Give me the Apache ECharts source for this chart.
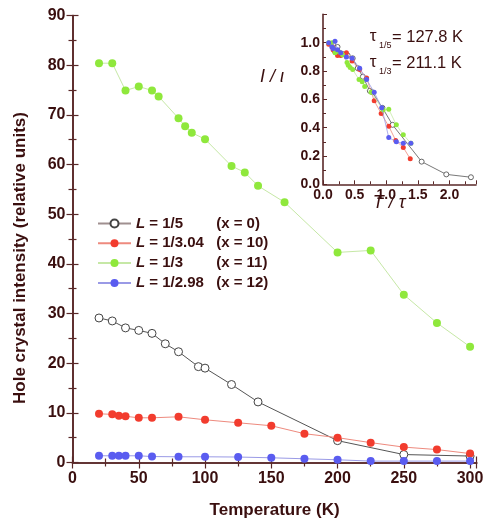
<!DOCTYPE html>
<html>
<head>
<meta charset="utf-8">
<script src="https://cdn.jsdelivr.net/npm/echarts@6/dist/echarts.min.js"></script>
<style>
  html, body { margin: 0; padding: 0; background: #fff; }
  #chartdiv { width: 488px; height: 527px; }
</style>
</head>
<body>
<div id="chartdiv"></div>
<script>
// main panel: intensity vs temperature
const tempBlack = [20, 30, 40, 50, 60, 70, 80, 95, 100, 120, 140, 200, 250, 300];
const intBlack = [29.1, 28.5, 27.1, 26.6, 26.0, 23.9, 22.3, 19.3, 19.0, 15.7, 12.2, 4.4, 1.6, 1.3];
const tempRed = [20, 30, 35, 40, 50, 60, 80, 100, 125, 150, 175, 200, 225, 250, 275, 300];
const intRed = [9.8, 9.7, 9.4, 9.3, 9.0, 9.0, 9.2, 8.6, 8.0, 7.4, 5.8, 5.0, 4.0, 3.1, 2.6, 1.8];
const tempGreen = [20, 30, 40, 50, 60, 65, 80, 85, 90, 100, 120, 130, 140, 160, 200, 225, 250, 275, 300];
const intGreen = [80.4, 80.4, 74.9, 75.7, 74.9, 73.7, 69.3, 67.7, 66.4, 65.1, 59.7, 58.4, 55.7, 52.4, 42.3, 42.7, 33.8, 28.1, 23.3];
const tempBlue = [20, 30, 35, 40, 50, 60, 80, 100, 125, 150, 175, 200, 225, 250, 275, 300];
const intBlue = [1.35, 1.35, 1.35, 1.35, 1.35, 1.2, 1.15, 1.15, 1.1, 0.95, 0.75, 0.55, 0.28, 0.28, 0.28, 0.28];

// inset: I/I0 vs T/tau
const insetBlackX = [0.16, 0.23, 0.31, 0.39, 0.47, 0.55, 0.63, 0.74, 0.78, 0.94, 1.10, 1.56, 1.95, 2.34];
const insetBlackY = [0.99, 0.97, 0.92, 0.91, 0.89, 0.82, 0.76, 0.66, 0.65, 0.54, 0.42, 0.16, 0.07, 0.05];
const insetRedX = [0.09, 0.14, 0.16, 0.18, 0.23, 0.28, 0.37, 0.46, 0.58, 0.69, 0.81, 0.92, 1.04, 1.15, 1.27, 1.38];
const insetRedY = [0.99, 0.98, 0.95, 0.94, 0.91, 0.91, 0.93, 0.87, 0.81, 0.75, 0.59, 0.50, 0.41, 0.31, 0.26, 0.18];
const insetGreenX = [0.09, 0.14, 0.19, 0.24, 0.28, 0.31, 0.38, 0.40, 0.43, 0.47, 0.57, 0.62, 0.66, 0.76, 0.95, 1.04, 1.16, 1.27, 1.39];
const insetGreenY = [1.0, 1.0, 0.93, 0.94, 0.93, 0.915, 0.86, 0.84, 0.825, 0.81, 0.74, 0.725, 0.69, 0.65, 0.525, 0.53, 0.42, 0.35, 0.29];
const insetBlueX = [0.09, 0.14, 0.16, 0.19, 0.23, 0.28, 0.37, 0.46, 0.58, 0.69, 0.81, 0.93, 1.04, 1.16, 1.27, 1.39];
const insetBlueY = [1.0, 0.97, 0.96, 1.01, 0.95, 0.93, 0.90, 0.89, 0.82, 0.74, 0.65, 0.54, 0.33, 0.30, 0.29, 0.29];

const seriesNames = ["L = 1/5", "L = 1/3.04", "L = 1/3", "L = 1/2.98"];
const legendFractions = ["1/5", "1/3.04", "1/3", "1/2.98"];
const legendDoping = ["0", "10", "11", "12"];

const mainTicksX = [0, 50, 100, 150, 200, 250, 300];
const mainTicksY = [0, 10, 20, 30, 40, 50, 60, 70, 80, 90];

const FONT = '"Liberation Sans", Arial, sans-serif';
const TEXT = "#3a0f0f";
const AXIS = "#5a2828";

function pairs(xs, ys) {
  return xs.map((x, i) => [x, ys[i]]);
}

const styles = [
  { fill: "#ffffff", border: "#444444", line: "#555555", legendLine: "#a09090" },
  { fill: "#f23c2e", border: "#f23c2e", line: "#ee8a7e", legendLine: "#ee8a7e" },
  { fill: "#8fe83c", border: "#8fe83c", line: "#c6e8a6", legendLine: "#c6e8a6" },
  { fill: "#5a5cf0", border: "#5a5cf0", line: "#9a9ae6", legendLine: "#9a9ae6" }
];

const mainData = [
  pairs(tempBlack, intBlack),
  pairs(tempRed, intRed),
  pairs(tempGreen, intGreen),
  pairs(tempBlue, intBlue)
];
const insetData = [
  pairs(insetBlackX, insetBlackY),
  pairs(insetRedX, insetRedY),
  pairs(insetGreenX, insetGreenY),
  pairs(insetBlueX, insetBlueY)
];

function axisCommon(extra) {
  return Object.assign({
    type: "value",
    axisLine: { show: true, lineStyle: { color: AXIS, width: 1.6 } },
    axisTick: { show: true, inside: true, length: 6, lineStyle: { color: AXIS, width: 1.2 } },
    minorTick: { show: true, splitNumber: 2, length: 4, lineStyle: { color: AXIS, width: 1.2 } },
    splitLine: { show: false },
    axisLabel: { show: false }
  }, extra);
}

const mainLabel = { show: true, fontFamily: FONT, fontWeight: "bold", fontSize: 16, color: TEXT };
const insetLabel = { show: true, fontFamily: FONT, fontWeight: "bold", fontSize: 14, color: TEXT, formatter: v => v.toFixed(1) };

const mainSeries = mainData.map((d, i) => ({
  name: seriesNames[i],
  type: "line",
  xAxisIndex: 0,
  yAxisIndex: 0,
  data: d,
  symbol: "circle",
  symbolSize: 8,
  showAllSymbol: true,
  lineStyle: { color: styles[i].line, width: 1 },
  itemStyle: { color: styles[i].fill, borderColor: styles[i].border, borderWidth: i === 0 ? 1 : 0 },
  emphasis: { disabled: true },
  z: 3 + i
}));

const insetSeries = insetData.map((d, i) => ({
  name: "inset " + seriesNames[i],
  type: "line",
  xAxisIndex: 2,
  yAxisIndex: 2,
  data: d,
  symbol: "circle",
  symbolSize: 5,
  showAllSymbol: true,
  lineStyle: { color: styles[i].line, width: 0.8 },
  itemStyle: { color: styles[i].fill, borderColor: styles[i].border, borderWidth: i === 0 ? 0.8 : 0 },
  emphasis: { disabled: true },
  z: 3 + i
}));

const chart = echarts.init(document.getElementById("chartdiv"));

const centered = { align: "center", verticalAlign: "middle", textAlign: "center", textVerticalAlign: "middle" };
const leftMid = { align: "left", verticalAlign: "middle", textAlign: "left", textVerticalAlign: "middle" };

const option = {
  animation: false,
  backgroundColor: "#ffffff",
  grid: [
    { left: 72.5, right: 11.3, top: 15.5, bottom: 64.5, containLabel: false },
    { left: 323, right: 12, top: 14.4, bottom: 342.7, containLabel: false }
  ],
  xAxis: [
    axisCommon({
      gridIndex: 0, position: "bottom", min: 0, max: 305, interval: 50,
      axisLabel: Object.assign({ margin: 8, showMaxLabel: false,
        formatter: v => mainTicksX.includes(v) ? String(v) : "" }, mainLabel),
      name: "Temperature (K)", nameLocation: "middle", nameGap: 39,
      nameTextStyle: { fontFamily: FONT, fontWeight: "bold", fontSize: 17, color: TEXT }
    }),
    axisCommon({ gridIndex: 0, position: "top", min: 0, max: 305, interval: 50 }),
    axisCommon({
      gridIndex: 1, position: "bottom", min: 0, max: 2.42, interval: 0.5,
      axisTick: { show: true, inside: true, length: 4, lineStyle: { color: AXIS, width: 1 } },
      minorTick: { show: true, splitNumber: 2, length: 3, lineStyle: { color: AXIS, width: 1 } },
      axisLabel: Object.assign({ margin: 4, showMaxLabel: false }, insetLabel)
    })
  ],
  yAxis: [
    axisCommon({
      gridIndex: 0, position: "left", min: 0, max: 90, interval: 10,
      axisLabel: Object.assign({ margin: 7,
        formatter: v => mainTicksY.includes(v) ? String(v) : "" }, mainLabel)
    }),
    axisCommon({ gridIndex: 0, position: "right", min: 0, max: 90, interval: 10 }),
    axisCommon({
      gridIndex: 1, position: "left", min: 0, max: 1.2, interval: 0.2,
      axisTick: { show: true, inside: true, length: 4, lineStyle: { color: AXIS, width: 1 } },
      minorTick: { show: true, splitNumber: 2, length: 3, lineStyle: { color: AXIS, width: 1 } },
      axisLabel: Object.assign({ margin: 3, showMaxLabel: false }, insetLabel)
    })
  ],
  legend: {
    data: seriesNames.map((n, i) => ({ name: n, lineStyle: { color: styles[i].legendLine } })),
    orient: "vertical",
    left: 92,
    top: 211,
    itemWidth: 33,
    itemHeight: 10,
    itemGap: 4.8,
    selectedMode: false,
    formatter: name => {
      const i = seriesNames.indexOf(name);
      return `{l|L}{n| = ${legendFractions[i]}}{x|(x = ${legendDoping[i]})}`;
    },
    textStyle: {
      fontFamily: FONT, fontSize: 15, fontWeight: "bold", color: TEXT,
      rich: {
        l: { fontFamily: FONT, fontSize: 15, fontWeight: "bold", fontStyle: "italic", color: TEXT },
        n: { fontFamily: FONT, fontSize: 15, fontWeight: "bold", color: TEXT, width: 71 },
        x: { fontFamily: FONT, fontSize: 15, fontWeight: "bold", color: TEXT }
      }
    }
  },
  graphic: [
    {
      type: "text", x: 20, y: 258, rotation: Math.PI / 2,
      style: Object.assign({ text: "Hole crystal intensity (relative units)", font: `bold 17px ${FONT}`, fill: TEXT }, centered)
    },
    {
      type: "text", x: 272, y: 77,
      style: Object.assign({ text: "I / ι", font: `italic 18px ${FONT}`, fill: TEXT }, centered)
    },
    {
      type: "text", x: 389, y: 203,
      style: Object.assign({ text: "T / τ", font: `italic 18px ${FONT}`, fill: TEXT }, centered)
    },
    // tau annotations
    { type: "text", x: 373, y: 36, style: Object.assign({ text: "τ", font: `17px ${FONT}`, fill: TEXT }, centered) },
    { type: "text", x: 379, y: 46, style: Object.assign({ text: "1/5", font: `9px ${FONT}`, fill: TEXT }, leftMid) },
    { type: "text", x: 392, y: 37, style: Object.assign({ text: "= 127.8 K", font: `16.5px ${FONT}`, fill: TEXT }, leftMid) },
    { type: "text", x: 373, y: 62, style: Object.assign({ text: "τ", font: `17px ${FONT}`, fill: TEXT }, centered) },
    { type: "text", x: 379, y: 72, style: Object.assign({ text: "1/3", font: `9px ${FONT}`, fill: TEXT }, leftMid) },
    { type: "text", x: 392, y: 63, style: Object.assign({ text: "= 211.1 K", font: `16.5px ${FONT}`, fill: TEXT }, leftMid) }
  ],
  series: mainSeries.concat(insetSeries)
};

chart.setOption(option);
</script>
</body>
</html>
